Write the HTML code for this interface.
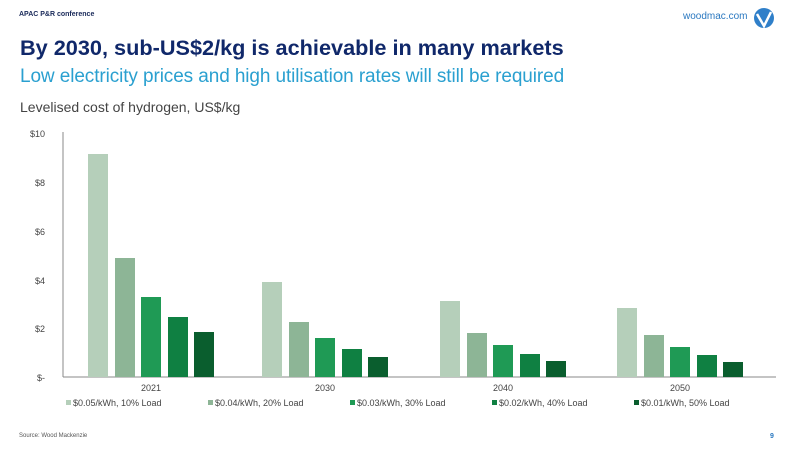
<!DOCTYPE html><html><head><style>
body{margin:0;width:800px;height:451px;background:#fff;font-family:"Liberation Sans",sans-serif;position:relative;overflow:hidden}
.a{position:absolute;white-space:nowrap}
</style></head><body>
<div class="a" style="left:19px;top:11px;font-size:7px;color:#1a2a5a;font-weight:bold">APAC P&amp;R conference</div>
<div class="a" style="left:683px;top:11px;font-size:10px;color:#2a78c0">woodmac.com</div>
<svg class="a" style="left:752px;top:6px" width="24" height="24" viewBox="0 0 24 24"><circle cx="12" cy="12" r="10" fill="#2f7fc9"/><path d="M5 8 L12 20 L19 6" stroke="#fff" stroke-width="2.5" fill="none"/></svg>
<div class="a" style="left:20px;top:35px;font-size:21.7px;font-weight:bold;color:#10286a">By 2030, sub-US$2/kg is achievable in many markets</div>
<div class="a" style="left:20px;top:66px;font-size:19px;color:#2aa0d0;letter-spacing:-0.1px">Low electricity prices and high utilisation rates will still be required</div>
<div class="a" style="left:20px;top:99px;font-size:14px;color:#444">Levelised cost of hydrogen, US$/kg</div>
<svg class="a" style="left:0;top:0" width="800" height="451">
<g font-size="9" fill="#444" font-family="Liberation Sans" text-anchor="end">
<text x="45" y="137">$10</text><text x="45" y="186">$8</text><text x="45" y="235">$6</text><text x="45" y="284">$4</text><text x="45" y="332">$2</text><text x="45" y="381">$-</text></g>
<line x1="63" y1="132" x2="63" y2="377" stroke="#888"/>
<line x1="63" y1="377" x2="776" y2="377" stroke="#888"/>
<g>
<rect x="88" y="154" width="20" height="223" fill="#b5cfba"/><rect x="115" y="258" width="20" height="119" fill="#8db596"/><rect x="141" y="297" width="20" height="80" fill="#1f9a55"/><rect x="168" y="317" width="20" height="60" fill="#0f8042"/><rect x="194" y="332" width="20" height="45" fill="#0a5e2e"/>
<rect x="262" y="282" width="20" height="95" fill="#b5cfba"/><rect x="289" y="322" width="20" height="55" fill="#8db596"/><rect x="315" y="338" width="20" height="39" fill="#1f9a55"/><rect x="342" y="349" width="20" height="28" fill="#0f8042"/><rect x="368" y="357" width="20" height="20" fill="#0a5e2e"/>
<rect x="440" y="301" width="20" height="76" fill="#b5cfba"/><rect x="467" y="333" width="20" height="44" fill="#8db596"/><rect x="493" y="345" width="20" height="32" fill="#1f9a55"/><rect x="520" y="354" width="20" height="23" fill="#0f8042"/><rect x="546" y="361" width="20" height="16" fill="#0a5e2e"/>
<rect x="617" y="308" width="20" height="69" fill="#b5cfba"/><rect x="644" y="335" width="20" height="42" fill="#8db596"/><rect x="670" y="347" width="20" height="30" fill="#1f9a55"/><rect x="697" y="355" width="20" height="22" fill="#0f8042"/><rect x="723" y="362" width="20" height="15" fill="#0a5e2e"/>
</g>
<g font-size="9" fill="#444" font-family="Liberation Sans" text-anchor="middle">
<text x="151" y="391">2021</text><text x="325" y="391">2030</text><text x="503" y="391">2040</text><text x="680" y="391">2050</text></g>
<g font-size="9" fill="#444" font-family="Liberation Sans">
<rect x="66" y="400" width="5" height="5" fill="#b5cfba"/><text x="73" y="406">$0.05/kWh, 10% Load</text>
<rect x="208" y="400" width="5" height="5" fill="#8db596"/><text x="215" y="406">$0.04/kWh, 20% Load</text>
<rect x="350" y="400" width="5" height="5" fill="#1f9a55"/><text x="357" y="406">$0.03/kWh, 30% Load</text>
<rect x="492" y="400" width="5" height="5" fill="#0f8042"/><text x="499" y="406">$0.02/kWh, 40% Load</text>
<rect x="634" y="400" width="5" height="5" fill="#0a5e2e"/><text x="641" y="406">$0.01/kWh, 50% Load</text>
</g>
<text x="19" y="437" font-size="6" fill="#555" font-family="Liberation Sans">Source: Wood Mackenzie</text>
<text x="770" y="438" font-size="7" fill="#2a78c0" font-weight="bold" font-family="Liberation Sans">9</text>
</svg>
</body></html>
